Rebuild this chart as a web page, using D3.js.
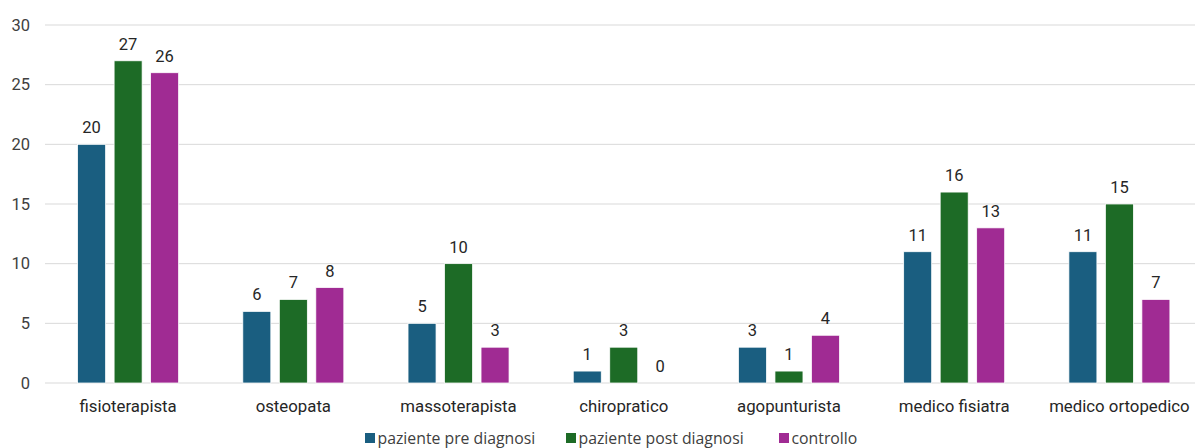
<!DOCTYPE html>
<html>
<head>
<meta charset="utf-8">
<script src="https://cdn.jsdelivr.net/npm/d3@7"></script>
<style>
  body { margin: 0; background: #fff; }
  svg { display: block; }
</style>
</head>
<body>
<svg id="chart" width="1195" height="448"></svg>
<script>
const categories = ["fisioterapista", "osteopata", "massoterapista", "chiropratico", "agopunturista", "medico fisiatra", "medico ortopedico"];
const seriesNames = ["paziente pre diagnosi", "paziente post diagnosi", "controllo"];
const preDiagnosi = [20, 6, 5, 1, 3, 11, 11];
const postDiagnosi = [27, 7, 10, 3, 1, 16, 15];
const controllo = [26, 8, 3, 0, 4, 13, 7];
const yTicks = [0, 5, 10, 15, 20, 25, 30];
const colors = ["#1a5e80", "#1d6b26", "#a02b93"];

const seriesValues = [preDiagnosi, postDiagnosi, controllo];

const svg = d3.select("#chart");
const W = 1195, H = 448;
const plotLeft = 45;

const x = d3.scaleBand().domain(categories).range([45.5, 1202]).padding(0);
const y = d3.scaleLinear().domain([0, 30]).range([383, 25]);

const font = "Roboto, 'Liberation Sans', sans-serif";

// horizontal gridlines
svg.append("g").selectAll("line").data(yTicks).join("line")
  .attr("x1", plotLeft).attr("x2", W)
  .attr("y1", d => y(d)).attr("y2", d => y(d))
  .attr("stroke", "#d9d9d9").attr("stroke-width", 1);

// y tick labels
svg.append("g").selectAll("text").data(yTicks).join("text")
  .attr("x", 30).attr("y", d => y(d)).attr("dy", "0.35em")
  .attr("text-anchor", "end")
  .attr("font-family", font)
  .attr("font-size", 16.5).attr("fill", "#404040")
  .text(d => d);

// bars within each group
const barW = 28, step = 36.5;
const inner = d3.scaleOrdinal().domain([0, 1, 2]).range([-step, 0, step]);

const groups = svg.append("g").selectAll("g").data(categories).join("g")
  .attr("transform", d => `translate(${x(d) + x.bandwidth() / 2},0)`);

groups.each(function (cat, ci) {
  const g = d3.select(this);
  seriesValues.forEach((vals, si) => {
    const v = vals[ci];
    g.append("rect")
      .attr("x", inner(si) - barW / 2)
      .attr("y", y(v))
      .attr("width", barW)
      .attr("height", y(0) - y(v))
      .attr("fill", colors[si])
      .attr("stroke", "#fff").attr("stroke-width", 0.75);
    g.append("text")
      .attr("x", inner(si))
      .attr("y", y(v) - 11)
      .attr("text-anchor", "middle")
      .attr("font-family", font)
      .attr("font-size", 16.5).attr("fill", "#262626")
      .text(v);
  });
  g.append("text")
    .attr("x", 0).attr("y", 412)
    .attr("text-anchor", "middle")
    .attr("font-family", font)
    .attr("font-size", 16.8).attr("fill", "#262626")
    .text(cat);
});

// legend
const legendX = [365, 566, 779];
const legend = svg.append("g").selectAll("g").data(seriesNames).join("g")
  .attr("transform", (d, i) => `translate(${legendX[i]},438)`);
legend.append("rect")
  .attr("x", 0).attr("y", -5).attr("width", 10).attr("height", 10)
  .attr("fill", (d, i) => colors[i]);
legend.append("text")
  .attr("x", 12.5).attr("y", 0).attr("dy", "0.35em")
  .attr("font-family", "'Open Sans', sans-serif")
  .attr("font-size", 15.8).attr("fill", "#404040")
  .text(d => d);
</script>
</body>
</html>
